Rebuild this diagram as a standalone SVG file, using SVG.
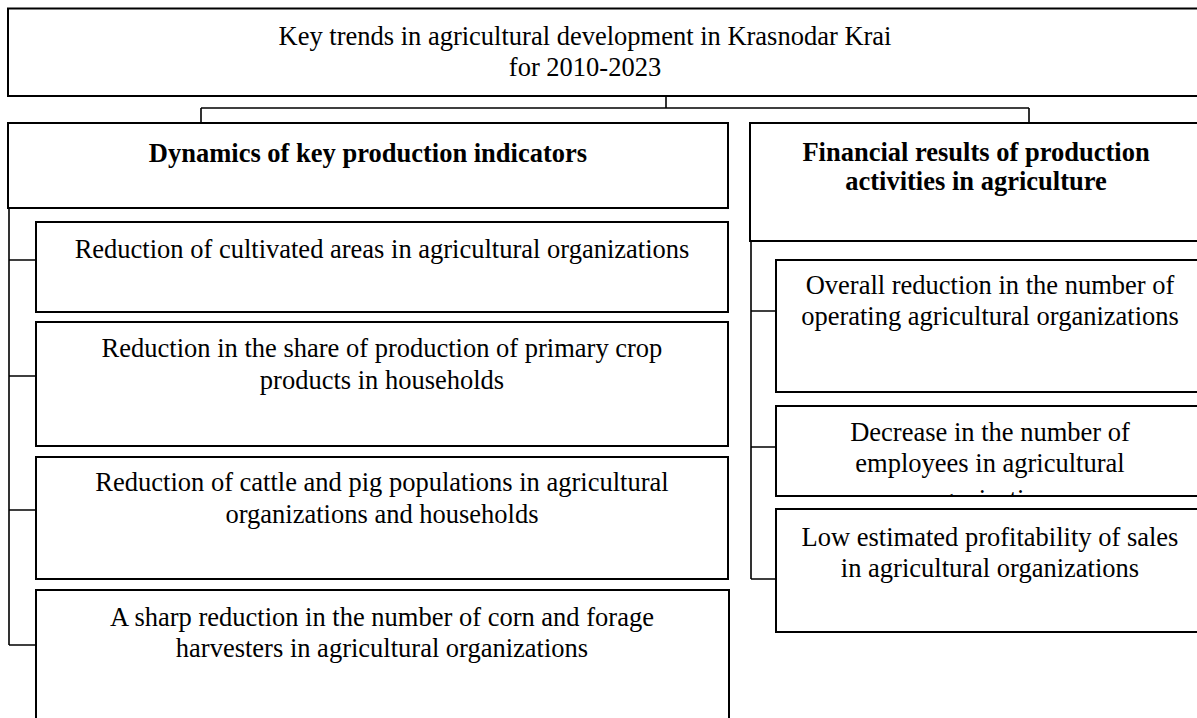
<svg xmlns="http://www.w3.org/2000/svg" width="1197" height="718" viewBox="0 0 1197 718">
<style>
.box{fill:#fff;stroke:#000;stroke-width:2}
.conn{fill:none;stroke:#000;stroke-width:1.6}
.t{font-family:"Liberation Serif","Times New Roman",serif;font-size:26.5px;fill:#000;text-anchor:middle}
.b{font-weight:bold}
</style>
<defs>
<clipPath id="clipDec"><rect x="777" y="407" width="430" height="88"/></clipPath>
</defs>
<rect width="1197" height="718" fill="#fff"/>
<g id="connectors">
<path class="conn" d="M666,96 V108 M201,108 H1029 M201,108 V123 M1029,108 V123"/>
<path class="conn" d="M9,208 V645 M9,260 H36 M9,376 H36 M9,510 H36 M9,645 H36"/>
<path class="conn" d="M751,241 V579 M751,311 H776 M751,447 H776 M751,579 H776"/>
</g>
<g id="title">
<rect class="box" x="8" y="8.5" width="1200" height="87.5"/>
<text class="t" x="585" y="45">Key trends in agricultural development in Krasnodar Krai</text>
<text class="t" x="585" y="76">for 2010-2023</text>
</g>
<g id="dynamics">
<rect class="box" x="8" y="123" width="720" height="85"/>
<text class="t b" x="368" y="162">Dynamics of key production indicators</text>
</g>
<g id="financial">
<rect class="box" x="750" y="123" width="460" height="118"/>
<text class="t b" x="976" y="161">Financial results of production</text>
<text class="t b" x="976" y="190">activities in agriculture</text>
</g>
<g id="cultivated">
<rect class="box" x="36" y="222" width="692" height="90"/>
<text class="t" x="382" y="258">Reduction of cultivated areas in agricultural organizations</text>
</g>
<g id="crop">
<rect class="box" x="36" y="322" width="692" height="124"/>
<text class="t" x="382" y="357">Reduction in the share of production of primary crop</text>
<text class="t" x="382" y="389">products in households</text>
</g>
<g id="cattle">
<rect class="box" x="36" y="457" width="692" height="122"/>
<text class="t" x="382" y="491">Reduction of cattle and pig populations in agricultural</text>
<text class="t" x="382" y="523">organizations and households</text>
</g>
<g id="harvesters">
<rect class="box" x="36" y="590" width="693" height="140"/>
<text class="t" x="382" y="626">A sharp reduction in the number of corn and forage</text>
<text class="t" x="382" y="657">harvesters in agricultural organizations</text>
</g>
<g id="organizations">
<rect class="box" x="776" y="260" width="430" height="132"/>
<text class="t" x="990" y="294">Overall reduction in the number of</text>
<text class="t" x="990" y="325">operating agricultural organizations</text>
</g>
<g id="employees">
<rect class="box" x="776" y="406" width="430" height="90"/>
<g clip-path="url(#clipDec)">
<text class="t" x="990" y="441">Decrease in the number of</text>
<text class="t" x="990" y="472">employees in agricultural</text>
<text class="t" x="990" y="508">organizations</text>
</g>
</g>
<g id="profitability">
<rect class="box" x="776" y="509" width="430" height="123"/>
<text class="t" x="990" y="546">Low estimated profitability of sales</text>
<text class="t" x="990" y="577">in agricultural organizations</text>
</g>
</svg>
